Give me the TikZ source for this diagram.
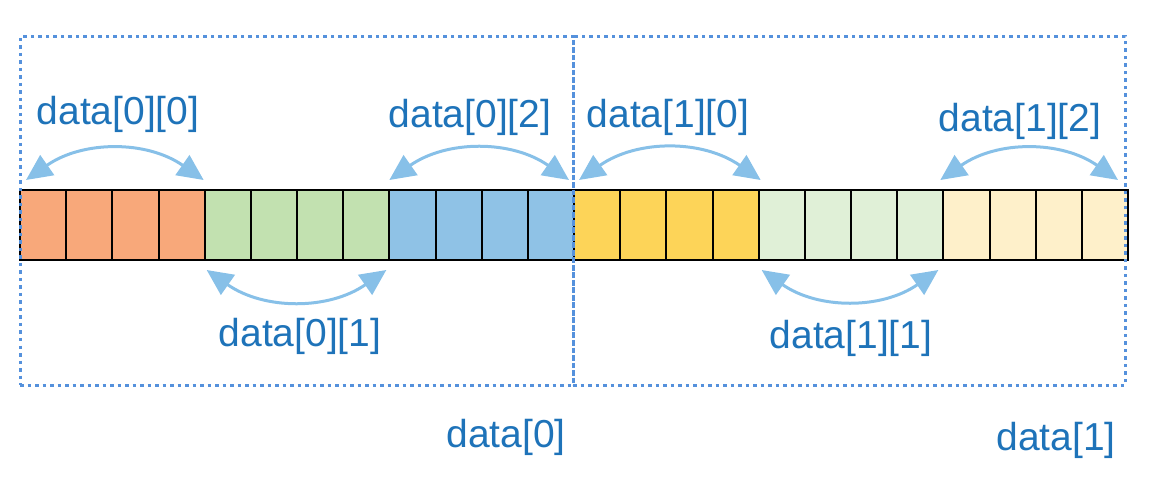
\documentclass[tikz,border=0pt]{standalone}
\usepackage{fontspec}
\setmainfont{Liberation Sans}
\usetikzlibrary{arrows.meta}
\definecolor{corange}{RGB}{248,168,122}
\definecolor{cgreen}{RGB}{194,225,176}
\definecolor{cblue}{RGB}{143,194,230}
\definecolor{cyellow}{RGB}{253,212,88}
\definecolor{clgreen}{RGB}{224,240,215}
\definecolor{ccream}{RGB}{254,240,202}
\definecolor{txtblue}{RGB}{30,115,185}
\definecolor{arrblue}{RGB}{135,192,232}
\definecolor{dotblue}{RGB}{85,145,220}
\tikzset{
  cell/.style={draw=black, line width=2pt, minimum width=46.17pt, minimum height=70pt, inner sep=0pt, outer sep=0pt},
  lbl/.style={text=txtblue, font=\fontsize{39}{41}\selectfont, inner sep=0pt},
  span/.style={draw=arrblue, line width=3pt, {Triangle[length=26pt,width=24pt]}-{Triangle[length=26pt,width=24pt]}},
  dotbox/.style={draw=dotblue, line width=3pt, dash pattern=on 3.5pt off 4pt, inner sep=0pt, outer sep=0pt}
}
\begin{document}
\begin{tikzpicture}[x=1pt,y=-1pt]
\useasboundingbox (0,0) rectangle (1150,494);
\foreach \col [count=\g from 0] in {corange,cgreen,cblue,cyellow,clgreen,ccream}{
  \foreach \k in {1,...,4}{
    \pgfmathtruncatemacro\i{\g*4+\k}
    \node[cell,fill=\col] (c\i) at ({20+(\i-0.5)*46.1667},225) {};
  }
}
% dotted boxes
\node[dotbox, minimum width=553pt, minimum height=348pt] (box0) at (296.5,211) {};
\node[dotbox, minimum width=552pt, minimum height=348pt] (box1) at (849,211) {};
% labels
\node[lbl] (l00) at (118,114) {data[0][0]};
\node[lbl] (l02) at (470,117) {data[0][2]};
\node[lbl] (l10) at (668,117) {data[1][0]};
\node[lbl] (l12) at (1020,121) {data[1][2]};
\node[lbl] (l01) at (300,336) {data[0][1]};
\node[lbl] (l11) at (851,338) {data[1][1]};
\node[lbl] (l0) at (506,437) {data[0]};
\node[lbl] (l1) at (1056,440) {data[1]};
% arrows
\draw[span] ([xshift=6pt,yshift=10pt]c1.north west) to[bend left=35] ([xshift=-1pt,yshift=10pt]c4.north east);
\draw[span] ([xshift=0pt,yshift=10pt]c9.north west) to[bend left=35] ([xshift=-5pt,yshift=10pt]c12.north east);
\draw[span] ([xshift=5pt,yshift=10pt]c13.north west) to[bend left=35] ([xshift=2pt,yshift=10pt]c16.north east);
\draw[span] ([xshift=-3pt,yshift=10pt]c21.north west) to[bend left=35] ([xshift=-10pt,yshift=10pt]c24.north east);
\draw[span] ([xshift=2pt,yshift=-10pt]c5.south west) to[bend right=35] ([xshift=-3pt,yshift=-10pt]c8.south east);
\draw[span] ([xshift=3pt,yshift=-10pt]c17.south west) to[bend right=35] ([xshift=-5pt,yshift=-10pt]c20.south east);
\end{tikzpicture}
\end{document}
